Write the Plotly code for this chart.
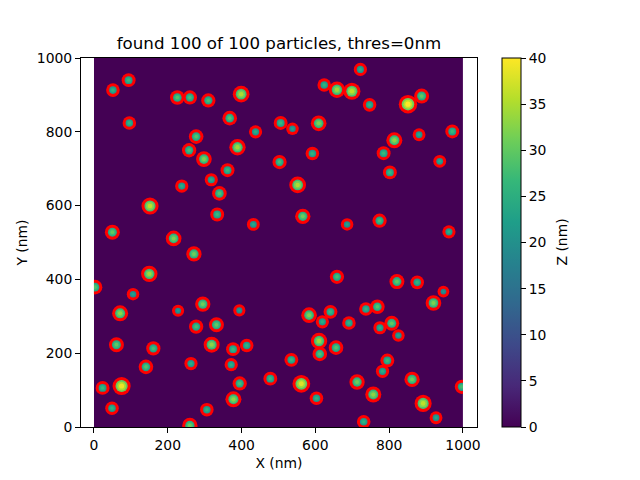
import numpy as np
import plotly.graph_objects as go

# Particle positions (nm) and heights (nm)
particle_x = [94,51.5,226,260,310,399,96,368,438,277,258,389,298,362,318,238,340,152,334,432,50,216,
              722,624,658.5,699,747,851,888,506,538,609,971,881,814,592,785,937,503,802,552,566,686,774,962,
              271,150,3,106,295,71,228,394,332,277,61,319,377,414,161,263,372,141,478,395,75,23.5,378,49,306,260,
              658.5,821,876,947,920,583,641,737,768,619,691,775,807,825,610,656,612,535,795,782,562,713,862,997,757,603,892,927,731]
particle_y = [940,913,893,893,885,902,824,837,800,787,750,758,726,696,670,653,633,599,576,549,528,511,
              969,927,914,910,873,875,897,824,808,823,801,792,777,741,742,720,718,690,656,571,549,559,529,
              469,415,379,360,333,308,315,316,277,272,223,223,211,221,213,172,169,163,131,118,111,106,75,51,47,4,
              407,394,392,367,336,303,312,320,326,285,282,269,281,248,233,215,198,182,180,151,117,122,129,109,88,78,64,25,14]
particle_z = [27,26,29,28,28,35,26,29,25,29,28,34,32,27,25,25,29,36,27,24,30,32,
              25,26,34,36,26,40,30,27,23,32,27,24,33,26,27,24,28,27,35,31,23,28,25,
              31,34,29,23,31,33,22,22,30,28,30,33,27,26,28,25,25,29,27,28,39,27,33,26,26,31,
              28,30,26,21,32,32,27,26,29,25,26,25,30,23,34,29,29,27,27,25,38,31,31,28,33,26,36,24,26]

background_z = [[0, 0], [0, 0]]
background_x = [250, 750]
background_y = [250, 750]
tick_values = [0, 200, 400, 600, 800, 1000]
colorbar_ticks = [0, 5, 10, 15, 20, 25, 30, 35, 40]

FONT = "DejaVu Sans"
z = np.array(particle_z, dtype=float)
outer = 12.5 + (z - 23) * 6 / 17
inner = outer - 6

fig = go.Figure()
fig.add_trace(go.Heatmap(x=background_x, y=background_y, z=background_z,
                         coloraxis="coloraxis", hoverinfo="skip"))
fig.add_trace(go.Scatter(x=particle_x, y=particle_y, mode="markers", showlegend=False,
                         marker=dict(size=outer, color="#ff0000", opacity=1, line=dict(width=0))))
for size_factor, colour_factor in [(1.0, 0.78), (0.72, 0.9), (0.42, 1.0)]:
    fig.add_trace(go.Scatter(x=particle_x, y=particle_y, mode="markers", showlegend=False,
                             marker=dict(size=inner * size_factor, color=z * colour_factor, opacity=1,
                                         coloraxis="coloraxis", line=dict(width=0))))

axis_common = dict(tickvals=tick_values, ticks="outside", ticklen=5, tickwidth=1, tickcolor="black",
                   showgrid=False, zeroline=False, showline=True, mirror=True, linecolor="black",
                   linewidth=1, tickfont=dict(family=FONT, size=13.9, color="black"))

fig.update_layout(
    width=640, height=480,
    margin=dict(l=81, r=163, t=58, b=53),
    paper_bgcolor="white", plot_bgcolor="white",
    font=dict(family=FONT, size=13.9, color="black"),
    title=dict(text="found 100 of 100 particles, thres=0nm", x=279 / 640, xanchor="center",
               y=1 - 43 / 480, yanchor="middle", font=dict(family=FONT, size=16.67, color="black")),
    xaxis=dict(range=[-35, 1038], title=dict(text="X (nm)", standoff=6, font=dict(family=FONT, size=13.9)), **axis_common),
    yaxis=dict(range=[0, 1000], title=dict(text="Y (nm)", standoff=5, font=dict(family=FONT, size=13.9)), **axis_common),
    coloraxis=dict(colorscale="Viridis", cmin=0, cmax=40,
                   colorbar=dict(x=1.063, xanchor="left", y=0.5, yanchor="middle", len=1, lenmode="fraction",
                                 thickness=19, thicknessmode="pixels", tickvals=colorbar_ticks, ticks="outside",
                                 ticklen=5, tickwidth=1, tickcolor="black", outlinewidth=1, outlinecolor="black",
                                 xpad=0, ypad=0, tickfont=dict(family=FONT, size=13.9, color="black"))),
    shapes=[
        dict(type="rect", xref="x", yref="y", x0=-34, x1=0, y0=1, y1=999, layer="above",
             fillcolor="white", line=dict(width=0)),
        dict(type="rect", xref="x", yref="y", x0=1000, x1=1037, y0=1, y1=999, layer="above",
             fillcolor="white", line=dict(width=0)),
    ],
    annotations=[dict(text="Z (nm)", xref="paper", yref="paper", x=(561 - 81) / 396, y=0.5, textangle=-90,
                      showarrow=False, xanchor="center", yanchor="middle",
                      font=dict(family=FONT, size=13.9, color="black"))],
)
fig.write_html("out.html", config={"displayModeBar": False}, post_script="document.body.style.margin='0';")
